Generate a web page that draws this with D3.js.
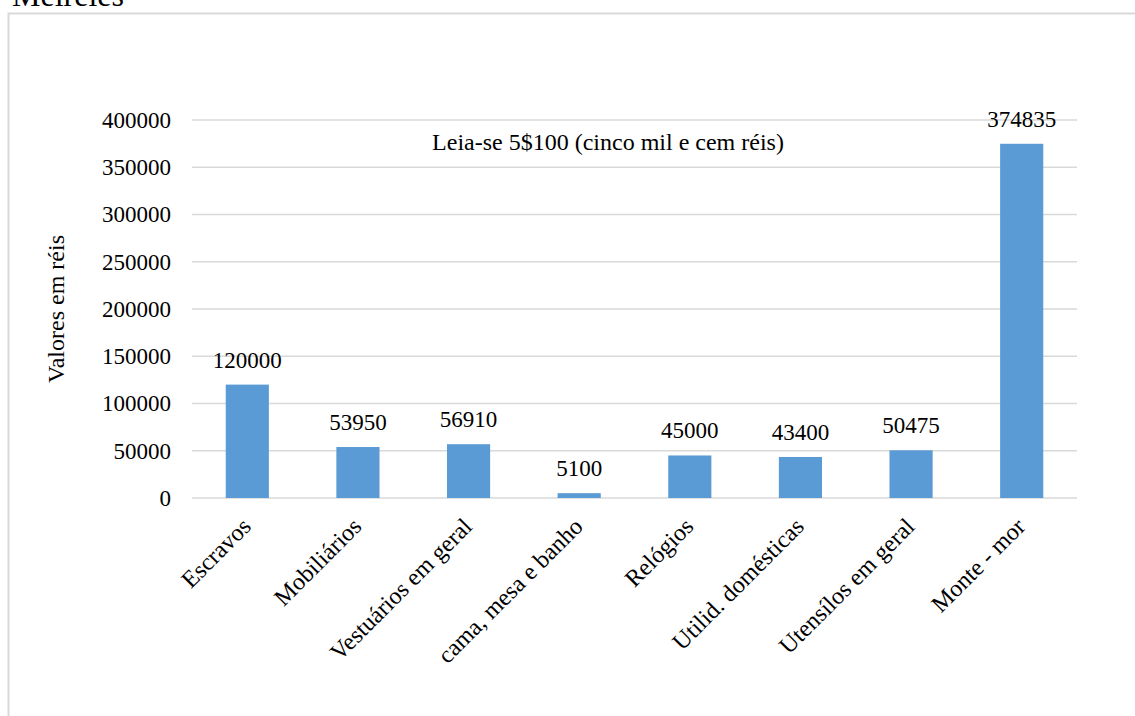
<!DOCTYPE html>
<html>
<head>
<meta charset="utf-8">
<script src="https://cdn.jsdelivr.net/npm/d3@7"></script>
<style>
  body { margin: 0; background: #fff; }
  svg text { font-family: "Liberation Serif", "Times New Roman", serif; fill: #000; }
</style>
</head>
<body>
<svg width="1135" height="716"></svg>
<script>
var width = 1135;
var height = 716;
var margin = {left: 192, right: 58, top: 120, bottom: 218};

// data
var categories = ["Escravos", "Mobiliários", "Vestuários em geral", "cama, mesa e banho",
                  "Relógios", "Utilid. domésticas", "Utensílos em geral", "Monte - mor"];
var values = [120000, 53950, 56910, 5100, 45000, 43400, 50475, 374835];
var yTicks = [0, 50000, 100000, 150000, 200000, 250000, 300000, 350000, 400000];

var svg = d3.select("svg");

// frame + cut-off title above it
svg.append("rect")
  .attr("x", 8.5).attr("y", 13.5)
  .attr("width", 1140).attr("height", 720)
  .attr("fill", "none")
  .attr("stroke", "#d9d9d9")
  .attr("stroke-width", 2);

svg.append("text")
  .attr("x", 12).attr("y", 6)
  .style("font-size", "32px")
  .text("Meireles");

// scales
var xScale = d3.scaleBand().domain(categories)
  .range([margin.left, width - margin.right]).paddingInner(0.61).paddingOuter(0.305);
var yScale = d3.scaleLinear().domain([0, 400000])
  .range([height - margin.bottom, margin.top]);

// grid lines
svg.append("g").selectAll("line")
  .data(yTicks)
  .enter().append("line")
  .attr("x1", margin.left).attr("x2", width - margin.right)
  .attr("y1", function (d) { return yScale(d); })
  .attr("y2", function (d) { return yScale(d); })
  .attr("stroke", "#d9d9d9")
  .attr("stroke-width", 1.5);

// y axis labels
var axisLeft = d3.axisLeft(yScale).tickValues(yTicks).tickSize(0).tickPadding(21)
  .tickFormat(d3.format("d"));
var gy = svg.append("g")
  .attr("transform", "translate(" + margin.left + ",0)")
  .call(axisLeft);
gy.select(".domain").remove();
gy.selectAll("text")
  .style("font-family", "'Liberation Serif', serif")
  .style("font-size", "23px")
  .attr("fill", "#000");

// bars
svg.append("g").selectAll("rect")
  .data(values)
  .enter().append("rect")
  .attr("x", function (d, i) { return xScale(categories[i]); })
  .attr("width", xScale.bandwidth())
  .attr("y", function (d) { return yScale(d); })
  .attr("height", function (d) { return yScale(0) - yScale(d); })
  .attr("fill", "#5b9bd5");

// value labels
svg.append("g").selectAll("text")
  .data(values)
  .enter().append("text")
  .attr("x", function (d, i) { return xScale(categories[i]) + xScale.bandwidth() / 2; })
  .attr("y", function (d) { return yScale(d) - 17; })
  .attr("text-anchor", "middle")
  .style("font-size", "23px")
  .text(function (d) { return d; });

// x labels, rotated
svg.append("g").selectAll("text")
  .data(categories)
  .enter().append("text")
  .attr("transform", function (d) {
    var x = xScale(d) + xScale.bandwidth() / 2 + 5;
    return "translate(" + x + "," + (yScale(0) + 30) + ") rotate(-45)";
  })
  .attr("text-anchor", "end")
  .style("font-size", "24px")
  .text(function (d) { return d; });

// note
svg.append("text")
  .attr("x", 608).attr("y", 150)
  .attr("text-anchor", "middle")
  .style("font-size", "24px")
  .text("Leia-se 5$100 (cinco mil e cem réis)");

// y axis title
svg.append("text")
  .attr("transform", "rotate(-90)")
  .attr("x", -(yScale(0) + yScale(400000)) / 2)
  .attr("y", 64)
  .attr("text-anchor", "middle")
  .style("font-size", "24px")
  .text("Valores em réis");
</script>
</body>
</html>
